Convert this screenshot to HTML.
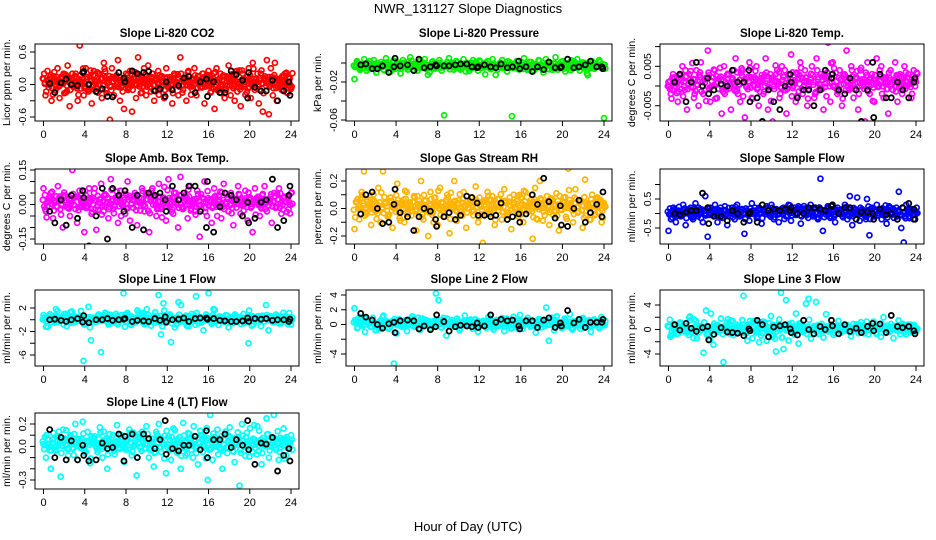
<!DOCTYPE html>
<html><head><meta charset="utf-8"><style>
html,body{margin:0;padding:0;background:#fff}
svg{display:block;font-family:"Liberation Sans",sans-serif}
</style></head><body>
<svg id="chart" width="936" height="540" viewBox="0 0 936 540">
<rect width="936" height="540" fill="#fff"/>
<text x="468" y="13" text-anchor="middle" font-size="13">NWR_131127  Slope Diagnostics</text>
<text x="468" y="531" text-anchor="middle" font-size="13">Hour of Day (UTC)</text>
</svg>
<script>
const xTicks=[0,4,8,12,16,20,24];
const blackHours=[0.6,1.1,1.7,2.2,2.7,3.3,3.8,3.9,4.4,5.1,5.7,6.2,6.7,7.3,7.8,7.9,8.6,9.1,9.7,10.2,10.8,11.3,11.8,11.9,12.5,13.1,13.6,14.1,14.7,15.2,15.8,15.9,16.5,17.1,17.6,18.2,18.7,19.3,19.8,19.9,20.5,21.1,21.6,22.2,22.7,23.3,23.8,23.9];
const titles=["Slope Li-820 CO2","Slope Li-820 Pressure","Slope Li-820 Temp.","Slope Amb. Box Temp.","Slope Gas Stream RH","Slope Sample Flow","Slope Line 1 Flow","Slope Line 2 Flow","Slope Line 3 Flow","Slope Line 4 (LT) Flow"];
const yTitles=["Licor ppm per min.","kPa per min.","degrees C per min.","degrees C per min.","percent per min.","ml/min per min.","ml/min per min.","ml/min per min.","ml/min per min.","ml/min per min."];
const colors=["#ff0000","#00ee00","#ff00ff","#ff00ff","#ffb400","#0000ff","#00ffff","#00ffff","#00ffff","#00ffff"];
const yTickVals=[[0.6,0.3,0,-0.3,-0.6],[0,-0.02,-0.04,-0.06],[0.01,0.005,0,-0.005],[0.15,0.1,0.05,0,-0.05,-0.1,-0.15],[0.2,0.1,0,-0.1,-0.2],[1,0.5,0,-0.5],[2,0,-2,-4,-6],[4,2,0,-2,-4],[4,2,0,-2,-4],[0.2,0.1,0,-0.1,-0.2,-0.3]];
const yTickLabels=[["0.6","","0.0","","-0.6"],["","-0.02","","-0.06"],["","0.005","","-0.005"],["0.15","","","0.00","","","-0.15"],["0.2","","0.0","","-0.2"],["","0.5","","-0.5"],["2","","-2","","-6"],["4","2","0","","-4"],["4","","0","","-4"],["0.2","","0.0","","","-0.3"]];
const s1=[0.1,-0.2,0.25,0,-0.3,0.15,-0.1,0.3,-0.25,0.05,0.2,-0.15,0.35,-0.4,0.1,-0.05,0.2,-0.3,0.72,0.05,-0.2,0.3,-0.1,0.15,-0.35,0.25,0,-0.15,0.2,-0.25,0.4,-0.1,0.1,-0.65,0.3,-0.2,0.15,0.45,-0.3,0.05,-0.45,0.2,-0.1,0.25,-0.5,0.1,-0.25,0.5,0.05,-0.15,0.3,-0.2,0.35,-0.05,0.2,-0.3,0.1,0.25,-0.1,0.15,-0.25,0.3,-0.05,0.1,-0.35,0.2,0.05,-0.2,0.5,-0.15,0.1,-0.3,0.25,0,-0.1,0.3,-0.2,0.15,-0.05,0.2,-0.35,0.1,0.25,-0.15,0.05,-0.45,0.3,-0.1,0.2,0,-0.25,0.15,0.35,-0.2,0.1,-0.3,0.25,-0.05,-0.4,0.2,0.1,-0.15,0.3,-0.25,0.4,-0.1,0.05,-0.35,0.2,-0.5,0.15,0.45,-0.55,0.3,-0.2,0.4,-0.3,0.1,0.05,-0.1,0.2,-0.15,0.12,-0.08];
const s2=[-0.017,0.002,-0.006,-0.002,0.004,-0.008,-0.001,-0.005,0.003,-0.01,-0.003,0.001,-0.007,0.005,-0.004,-0.009,0.002,-0.006,0,-0.011,0.003,-0.002,-0.007,0.006,-0.004,-0.001,-0.008,0.002,-0.005,0.004,-0.003,-0.01,0.001,-0.006,-0.002,0.003,-0.008,-0.055,-0.004,0.005,-0.001,-0.007,0.002,-0.005,-0.003,0.004,-0.009,0,-0.006,0.003,-0.002,-0.008,0.001,-0.004,-0.012,0.002,-0.006,0.004,-0.003,-0.007,0,0.003,-0.005,-0.009,0.001,-0.056,-0.004,0.002,-0.007,-0.002,0.005,-0.006,-0.003,0.001,-0.008,-0.005,0.003,-0.002,-0.01,0.004,-0.006,0,-0.004,0.006,-0.007,-0.003,0.002,-0.009,-0.005,0.001,-0.006,-0.002,0.004,-0.008,-0.003,0,-0.011,-0.004,0.002,-0.006,-0.001,0.003,-0.005,-0.058];
const s3=[0.001,-0.002,0.003,0,-0.004,0.002,0.005,-0.001,-0.006,0.003,0.001,-0.003,0.004,-0.005,0.006,-0.002,0.002,0.009,-0.004,0,0.004,-0.003,0.002,-0.007,0.005,-0.001,0.003,-0.006,0.001,0.007,-0.002,-0.004,0.004,-0.008,0.002,0.006,-0.003,0,0.005,-0.005,0.002,-0.002,0.007,-0.006,0.003,-0.009,0.001,0.004,-0.003,0.005,-0.001,-0.007,0.003,0.008,0,-0.004,0.002,0.006,-0.002,0.004,-0.005,0.001,0.005,-0.003,0.007,-0.001,0.003,-0.006,0.002,0.011,-0.004,0.006,0,-0.002,0.004,-0.005,0.003,0.009,-0.001,0.005,-0.003,0.002,-0.006,0.004,0.001,-0.009,0.006,-0.002,0.003,-0.004,0.007,0,0.005,-0.003,0.002,-0.007,0.004,-0.001,0.006,-0.004,0.003,-0.002,0.005,0,0.002,-0.003,0.004,0.001];
const s4=[0.07,-0.03,0.02,0.05,-0.06,0.01,0.08,-0.02,-0.1,0.04,0,-0.05,0.15,0.03,-0.08,0.06,-0.01,-0.12,0.02,0.07,-0.04,0.05,-0.11,0.01,0.09,-0.03,0.04,-0.06,0.11,-0.02,0.03,-0.08,0.06,0,-0.04,0.1,-0.07,0.02,0.05,-0.09,0.01,0.07,-0.03,0.04,-0.12,0.06,0.02,-0.05,0.09,-0.02,0.03,-0.07,0.11,0.01,-0.04,0.05,-0.1,0.12,-0.02,0.04,-0.06,0.08,0,-0.03,0.06,-0.14,0.03,0.1,-0.05,0.02,-0.08,0.07,-0.01,0.04,-0.06,0.09,0.01,-0.03,0.05,-0.09,0.02,0.08,-0.04,0,0.06,-0.07,0.03,-0.12,0.07,0.01,-0.05,0.04,0.08,-0.03,0.02,-0.08,0.05,-0.01,0.07,-0.04,0.03,0.01,-0.02,0.05];
const s5=[-0.15,0.05,-0.08,0.12,0.27,-0.04,0.02,-0.12,0.1,-0.02,0.15,-0.1,0.27,0.04,-0.06,0.08,-0.14,0.02,0.18,-0.07,0.05,-0.1,0.12,0,-0.05,0.09,-0.16,0.03,0.2,-0.08,0.06,-0.2,0.12,-0.03,0.08,-0.12,0.15,0.01,-0.06,0.1,-0.18,0.04,0.2,-0.09,0.06,-0.02,0.12,-0.14,0.03,0.08,-0.05,0.16,-0.1,0.02,-0.25,0.06,0.12,-0.04,0.09,-0.12,0.01,0.07,-0.08,0.14,-0.03,0.05,-0.15,0.1,0,-0.06,0.08,-0.1,0.12,-0.02,0.04,-0.22,0.15,-0.08,0.2,0.02,-0.05,0.09,-0.12,0.06,-0.02,0.11,-0.16,0.03,0.08,-0.06,0.29,0.04,-0.1,0.14,-0.03,0.06,-0.14,0.21,0.01,-0.08,0.1,-0.05,0.07,0.02,-0.1,0.04];
const s6=[-0.6,-0.2,0.2,-0.3,0.1,-0.1,0.3,-0.4,0.05,0.2,-0.2,0.35,-0.1,0.15,-0.3,0.6,-0.8,0.2,-0.05,0.3,-0.3,0.1,-0.15,0.25,-0.4,0.05,0.2,-0.2,0.3,-0.1,0.15,-0.7,0.1,-0.25,0.35,0,-0.15,0.2,-0.35,0.1,0.25,-0.05,0.3,-0.2,0.15,-0.3,0.05,0.2,-0.1,0.3,-0.25,0.1,-0.05,0.25,-0.35,0.15,0,-0.15,0.3,-0.1,0.2,-0.2,1.2,-0.6,0.1,0.25,-0.15,0.05,-0.3,0.2,0.1,-0.1,0.3,-0.2,0.6,-0.4,0.05,0.55,-0.25,0.15,-0.05,0.5,-0.75,0.2,-0.1,0.3,0,-0.2,0.15,-0.35,0.25,0.05,-0.15,0.2,0.75,-0.5,-1.0,0.3,-0.1,0.15,-0.2,0.05];
const s7=[0.8,-1.2,0.3,-0.4,0.6,1.8,-0.3,0.5,-0.8,1,0.2,-0.5,0.7,-0.2,0.4,1.5,-7,-0.6,2.2,-3.5,0.3,-0.4,0.9,-5.5,0.1,0.6,-0.8,0.4,-0.2,1,-0.5,0.3,4.5,-0.3,0.7,-0.9,0.2,-0.4,1.2,0.5,-0.6,0.3,0.8,-1,0.4,-0.2,4.2,-2.5,2.8,-0.5,0.6,-3.8,0.2,-0.8,3,2.5,-0.3,0.7,-1.1,0.1,0.5,4,-0.6,0.3,-1.8,0.9,4.5,-0.4,1.8,0.2,-0.9,0.5,-0.2,0.8,-1.3,0.4,-0.5,0.7,0.1,-0.7,1,-0.3,-4,0.6,-0.8,0.2,0.5,-1.1,0.3,2.5,-1.8,0.6,-0.4,0.9,0.1,-0.6,1.2,-0.3,0.4,-0.8];
const s8=[2.2,-0.5,1,0.3,-1,0.6,-0.3,0.9,-0.8,0.2,-0.4,1.2,0.5,-0.6,0.1,-5.3,-1.2,0.7,-0.2,0.4,-0.9,0.6,1.1,-0.3,0.2,-0.7,0.8,-0.1,0.5,-0.5,0.3,4.2,3.3,-0.4,0.9,-1.5,0.2,0.6,-0.3,0.8,-0.8,0.1,1.2,-0.2,0.4,-0.6,0.7,-1,0.3,0.5,-0.4,1,0.1,-0.7,0.6,-0.2,0.3,-0.9,0.8,0.2,-0.5,0.5,-0.1,1.3,-0.6,0.2,0.9,-0.3,0.4,-1.1,0.7,-0.4,0.2,2.3,-2.2,0.6,-0.8,1.1,0.3,-0.5,0.8,-0.2,1.4,-0.7,0.4,0.1,-0.6,0.9,-0.3,0.5,-1,0.6,0.2,-0.4,1,-0.1];
const s9=[0.5,-1,0.9,0.2,-0.6,1.1,-0.3,0.6,-0.9,0.1,-1.4,1.4,-0.5,0.4,-3.8,3.1,-0.8,2.6,-2.5,0.7,-0.2,1.8,-5.3,0.3,-0.6,1.5,-0.9,0.2,0.5,-0.4,5.5,-0.7,0.8,-0.2,1.2,-0.5,0.3,-1,0.6,0.1,-0.3,2.2,-0.8,-3.6,0.9,6,-3.2,4.8,-1.8,0.4,-0.6,2.6,-2.3,1,-0.4,4.2,5,-1.5,0.2,4.5,-0.7,0.6,-1.3,2.5,-0.3,0.8,-0.9,0.2,1.4,-0.5,0.7,-0.2,0.4,-1.1,0.9,0.1,-0.6,1.2,-0.3,0.5,-0.8,0.3,1.3,-0.5,0.6,-1.2,2,0.2,-0.4,0.9,-1.4,0.4,1.5,-0.2,0.7,-0.8,0.3,0.8,-0.4,0.2];
const s10=[0.02,-0.1,0.06,-0.2,0.12,-0.04,0.08,-0.27,0.15,0.01,-0.08,0.1,-0.02,0.2,-0.12,0.05,0.22,-0.06,0.13,-0.15,0.03,0.09,-0.05,0.17,-0.1,0.04,-0.2,0.11,0.02,-0.07,0.19,-0.02,0.08,-0.14,0.05,0.15,-0.08,0.01,-0.26,0.11,-0.04,0.07,0.18,-0.1,0.03,-0.18,0.13,0.2,-0.05,0.02,-0.24,0.09,-0.12,0.16,-0.03,0.06,-0.2,0.21,-0.08,0.12,0.01,-0.1,0.05,-0.16,0.14,-0.05,0.08,-0.3,0.28,-0.12,0.04,0.15,-0.02,-0.2,0.1,-0.06,0.17,0.03,-0.14,0.07,-0.35,0.2,-0.04,0.12,-0.09,0.02,0.19,-0.07,0.14,-0.16,0.04,0.25,-0.1,0.08,0.28,-0.03,-0.12,0.06,0.16,-0.08,0.03,0.1];
const b1=[0.02,-0.15,0.03,0.1,0,-0.02,0.22,0.24,0,-0.13,-0.08,-0.22,-0.23,0.22,0.12,0.05,0.25,0.2,0.22,0.24,-0.12,-0.08,-0.22,0.05,-0.1,-0.02,0.12,0.15,-0.15,0.05,0.1,-0.22,0.05,-0.15,-0.15,0.25,0.18,0.08,-0.25,0.22,-0.05,-0.12,-0.12,0.08,-0.3,-0.12,0.05,-0.2];
const b2=[-0.002,-0.001,-0.006,-0.006,-0.003,-0.01,-0.004,0.005,-0.003,-0.002,-0.008,0.004,-0.005,-0.004,-0.002,-0.003,-0.003,-0.003,-0.002,-0.001,-0.001,-0.004,-0.005,-0.004,-0.002,-0.004,-0.005,-0.001,-0.005,-0.004,0.002,-0.006,-0.004,-0.009,-0.004,-0.007,0.001,-0.005,-0.005,-0.004,0.004,-0.005,-0.004,-0.002,0.002,-0.004,-0.004,-0.006];
const b3=[0.001,0.003,-0.004,0.001,0.006,0,0.002,-0.002,-0.001,0.0005,0,0.004,0.001,0.001,0.004,-0.004,-0.003,-0.009,-0.001,-0.004,-0.006,0,0.003,0.001,-0.003,-0.001,-0.001,-0.005,-0.001,0.004,0.002,0.003,-0.001,-0.002,0.002,-0.001,-0.009,-0.001,0.006,-0.008,0.003,-0.003,-0.003,0.001,-0.001,-0.003,0.001,0.002];
const b4=[-0.03,-0.08,0.02,-0.09,0.04,-0.06,0.06,0.03,-0.18,-0.05,0.07,-0.15,0.07,0.04,-0.03,0.06,-0.1,0.04,-0.11,0.05,0.04,0.05,0.02,-0.03,0.08,0.02,0.05,0.08,0.08,-0.03,-0.1,0.1,-0.12,-0.01,0.05,0.04,0.02,-0.05,0.01,-0.08,-0.06,0.01,0.02,0.11,-0.1,-0.07,0.04,0.08];
const b5=[-0.04,0.1,0.12,0,-0.11,-0.1,0.03,0.14,-0.03,-0.06,-0.16,-0.06,0,-0.02,-0.08,-0.13,-0.06,-0.03,-0.08,-0.05,0.09,0.08,0.04,-0.05,-0.05,-0.06,-0.05,0.04,-0.08,-0.06,-0.04,-0.1,-0.04,0.1,0.03,0.22,0.05,-0.07,0.02,-0.12,-0.13,0,0.06,-0.1,-0.03,0.03,-0.06,0.12];
const b6=[0,-0.05,0.05,0.1,0.1,0.7,0.2,-0.35,-0.1,-0.1,-0.25,0.1,0,-0.3,0,0.05,-0.3,0.3,0.1,0.15,0.1,0.15,0.1,0.2,0,0,0.2,0.2,0.15,0.1,0.25,0.3,0,0.2,0.2,-0.2,0.05,0.05,0,-0.2,0.15,-0.05,0,-0.2,0.2,0.35,0.15,-0.2];
const b7=[0,0.1,-0.1,-0.3,0,0.2,-0.4,0.7,-0.5,0,0,0.2,-0.1,0,0.1,0.2,-0.3,-0.1,-0.2,-0.3,0.2,-0.1,0.5,-0.4,0,0.1,0.3,-0.3,0.2,0.3,0.3,0.1,0.2,-0.1,-0.2,-0.3,-0.3,-0.2,0.3,-0.3,0.2,0.1,0.2,-0.1,0,0,-0.3,0.1];
const b8=[1.5,1,0.6,0,-0.5,0.1,0.3,-1.1,0.5,0.6,0.5,-0.6,-0.2,-0.7,-0.3,1.3,0.4,-0.9,-0.3,-0.1,-0.2,-0.3,0.2,-0.4,-0.2,1.3,0.3,0.7,0.5,0.6,-0.2,-0.6,0.5,0.5,-0.4,0.6,0.9,-0.4,0.2,-0.2,1.9,0.2,0.7,-0.4,0.3,0.3,0.3,0.7];
const b9=[0.8,-0.1,1,0.2,-0.3,0.3,0.5,-1.7,-0.8,0.3,-0.4,-0.5,-0.6,-1,0.1,-0.2,1.5,0.8,-1.2,0.4,0.6,0.8,0.1,-0.5,-0.9,1.5,0,-0.7,0.5,0,1.5,0.6,-0.7,0.8,-0.3,0.2,-0.5,0.5,1,-0.2,0.9,-0.5,2.3,0.5,0.3,0.5,-0.2,-0.7];
const b10=[0.15,-0.1,0.08,-0.12,0.05,-0.12,0.01,-0.08,-0.13,-0.12,0.03,-0.02,-0.01,0.11,-0.13,0.09,0.11,-0.1,0.11,0.07,-0.02,0.06,0.23,-0.07,-0.02,-0.04,0.01,0.01,0.09,-0.03,0.14,-0.1,0.06,0.06,0.11,-0.01,0.06,0.01,0.23,-0.03,-0.16,0.03,0.02,0.08,-0.22,-0.08,-0.02,-0.13];
const series=[s1,s2,s3,s4,s5,s6,s7,s8,s9,s10];
const blacks=[b1,b2,b3,b4,b5,b6,b7,b8,b9,b10];
const boxes=[[35,44,299,121],[346,44,612,121],[660,44,924,121],[35,169,299,244],[346,169,612,244],[660,169,924,244],[35,290,299,366],[346,290,612,366],[660,290,924,366],[35,413,299,489]];
const yRefs=[[0.6,52,-0.6,117],[-0.02,82,-0.06,120],[0.005,66.3,-0.005,105.7],[0.15,170,-0.15,239],[0.2,181,-0.2,236],[0.5,199,-0.5,228],[2,308,-6,355],[4,295,-4,354],[4,305,-4,354],[0.2,424,-0.3,480]];
// each reading is overplotted with its neighbour-damped replicate copies to reproduce the dense band
const copyScale=[1,0.6,-0.35,0.25];
const copyShift=[0,0.7,1.4,-0.7];
const NS="http://www.w3.org/2000/svg";
const svg=document.getElementById('chart');
function mk(tag,attrs,parent){const e=document.createElementNS(NS,tag);for(const k in attrs)e.setAttribute(k,attrs[k]);parent.appendChild(e);return e;}
for(let p=0;p<10;p++){
  const [L,T,R,B]=boxes[p];
  const xZero=L+8.5, xEnd=R-8;
  const xs=h=>xZero+(xEnd-xZero)*h/24;
  const [v1,p1,v2,p2]=yRefs[p];
  const ys=v=>p1+(v-v1)*(p2-p1)/(v2-v1);
  const g=mk('g',{},svg);
  
  
  const cx=(L+R)/2;
  const t=mk('text',{x:cx,y:T-7,'text-anchor':'middle','font-size':'11.5','font-weight':'bold'},g);
  t.textContent=titles[p];
  
  
  const yt=mk('text',{transform:`translate(${L-25},${(T+B)/2}) rotate(-90)`,'text-anchor':'middle','font-size':'10.5'},g);
  yt.textContent=yTitles[p];
  
  
  const cid='clip'+p;
  const cp=mk('clipPath',{id:cid},g);mk('rect',{x:L,y:T,width:R-L,height:B-T},cp);
  const dots=mk('g',{'clip-path':`url(#${cid})`},g);
  
  
  const s=series[p];
  const core=s.filter(v=>Math.abs(v)<1e9);
  const sorted=core.slice().sort((a,b)=>a-b);
  const med=sorted[Math.floor(sorted.length/2)];
  for(let i=0;i<s.length;i++){
    const h=24*i/(s.length-1);
    for(let k=0;k<copyScale.length;k++){
      const v=k===0?s[i]:med+(s[(i+k*7)%s.length]-med)*copyScale[k];
      const vv=(k>0&&Math.abs(v-med)>Math.abs(sorted[Math.floor(sorted.length*0.9)]-med))?med+(v-med)*0.3:v;
      const c=mk('circle',{cx:xs(h)+copyShift[k],cy:ys(vv),r:2.5,fill:'none',stroke:colors[p],'stroke-width':1.7},dots);
      
      
    }
  }
  const b=blacks[p];
  for(let i=0;i<b.length&&i<blackHours.length;i++){
    const c=mk('circle',{cx:xs(blackHours[i]),cy:ys(b[i]),r:2.5,fill:'none',stroke:'#000','stroke-width':1.8},dots);
    
    
  }
  const box=mk('rect',{x:L,y:T,width:R-L,height:B-T,fill:'none',stroke:'#000','stroke-width':1},g);
  
  
  xTicks.forEach(v=>{
    const x=xs(v);
    mk('line',{x1:x,y1:B,x2:x,y2:B+5,stroke:'#000'},g);
    const tl=mk('text',{x:x,y:B+17,'text-anchor':'middle','font-size':'11'},g);
    tl.textContent=v;
    
    
  });
  yTickVals[p].forEach((v,k)=>{
    const y=ys(v);
    mk('line',{x1:L-5,y1:y,x2:L,y2:y,stroke:'#000'},g);
    const lab=yTickLabels[p][k];
    if(lab){
      const tl=mk('text',{transform:`translate(${L-9},${y}) rotate(-90)`,'text-anchor':'middle','font-size':'10.5'},g);
      tl.textContent=lab;
      
      
    }
  });
}
</script>
</body></html>
